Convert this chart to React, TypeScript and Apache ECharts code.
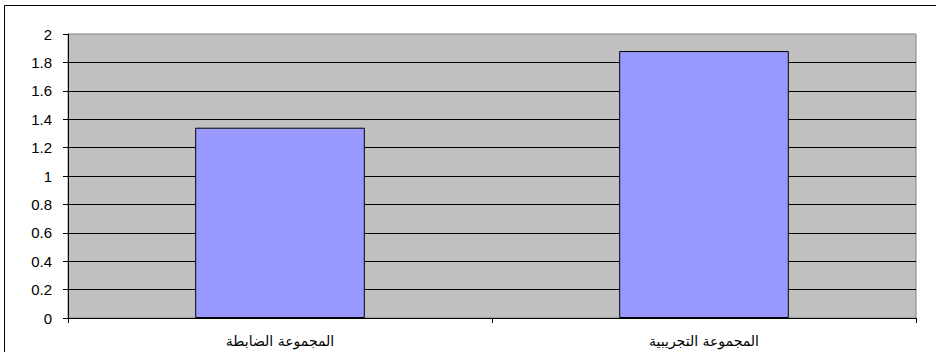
import React, { useEffect, useRef } from "react";
import * as echarts from "echarts";

const categories = ["المجموعة الضابطة", "المجموعة التجريبية"];
const values = [1.34, 1.88];
const yTicks = { min: 0, max: 2, interval: 0.2 };

export default function App() {
  const ref = useRef<HTMLDivElement>(null);

  useEffect(() => {
    if (!ref.current) return;
    const chart = echarts.init(ref.current, null, { renderer: "svg" });
    chart.setOption({
      animation: false,
      backgroundColor: "#ffffff",
      textStyle: { fontFamily: "Liberation Sans, Arial, sans-serif" },
      graphic: [
        {
          type: "rect",
          shape: { x: 4.5, y: 5.5, width: 940, height: 360 },
          style: { fill: "none", stroke: "#000000", lineWidth: 1 },
          silent: true,
        },
      ],
      grid: {
        left: 68,
        right: 20,
        top: 34,
        bottom: 34,
        show: true,
        backgroundColor: "#C0C0C0",
        borderColor: "#808080",
        borderWidth: 1,
      },
      xAxis: {
        type: "category",
        data: categories,
        axisLine: { show: true, lineStyle: { color: "#000000", width: 1 } },
        axisTick: { show: true, length: 5, alignWithLabel: false, lineStyle: { color: "#000000" } },
        axisLabel: {
          color: "#000000",
          fontSize: 14,
          margin: 16,
          fontFamily: "DejaVu Sans, sans-serif",
        },
        splitLine: { show: false },
      },
      yAxis: {
        type: "value",
        min: yTicks.min,
        max: yTicks.max,
        interval: yTicks.interval,
        axisLine: { show: true, lineStyle: { color: "#000000", width: 1 } },
        axisTick: { show: true, length: 5, lineStyle: { color: "#000000" } },
        axisLabel: {
          color: "#000000",
          fontSize: 15,
          margin: 16,
          lineHeight: 17,
          padding: [3, 0, 0, 0],
          formatter: (v: number) => String(Math.round(v * 10) / 10),
        },
        splitLine: {
          show: true,
          showMaxLine: false,
          lineStyle: { color: "#000000", width: 1 },
        },
      },
      series: [
        {
          type: "bar",
          data: values,
          barWidth: "40%",
          itemStyle: { color: "#9999FF", borderColor: "#000000", borderWidth: 1 },
        },
      ],
    });
    return () => chart.dispose();
  }, []);

  return (
    <div
      ref={ref}
      style={{ position: "fixed", left: 0, top: 0, width: 936, height: 352 }}
    />
  );
}
